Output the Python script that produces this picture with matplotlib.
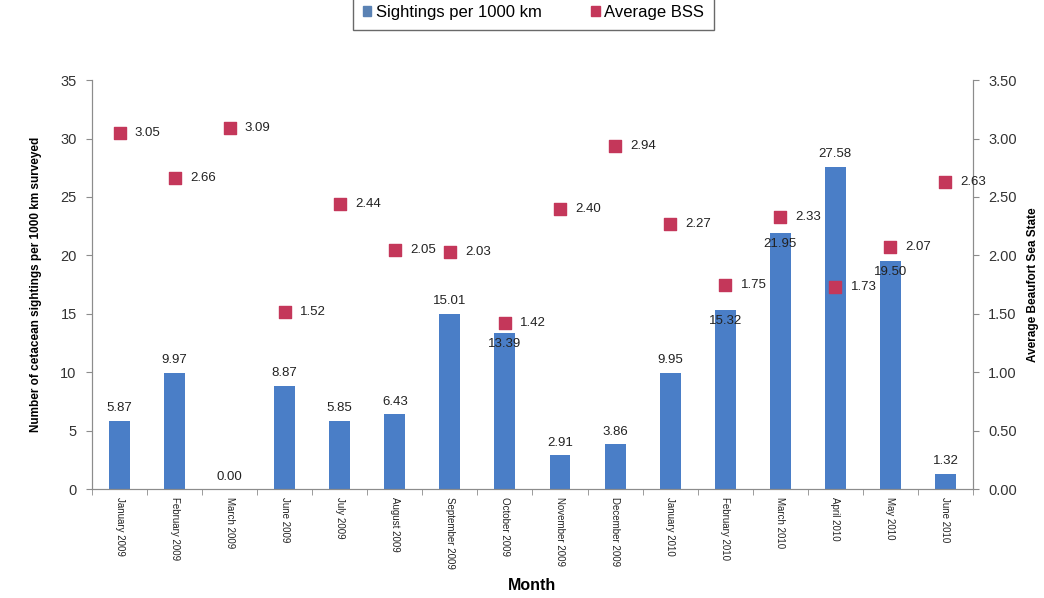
import numpy as np
from matplotlib import pyplot as plt
from matplotlib.patches import Patch

plt.rcParams['font.family'] = ['Liberation Sans', 'DejaVu Sans']

months = ['January 2009', 'February 2009', 'March 2009', 'June 2009', 'July 2009',
          'August 2009', 'September 2009', 'October 2009', 'November 2009',
          'December 2009', 'January 2010', 'February 2010', 'March 2010',
          'April 2010', 'May 2010', 'June 2010']
sightings = [5.87, 9.97, 0.00, 8.87, 5.85, 6.43, 15.01, 13.39, 2.91, 3.86,
             9.95, 15.32, 21.95, 27.58, 19.50, 1.32]
bss = [3.05, 2.66, 3.09, 1.52, 2.44, 2.05, 2.03, 1.42, 2.40, 2.94,
       2.27, 1.75, 2.33, 1.73, 2.07, 2.63]

bar_color = '#4A7EC7'
bss_color = '#C4375A'
axis_color = '#8C8C8C'

# bar labels that Excel pushed inside the bar top
inside = {'October 2009', 'February 2010', 'March 2010', 'May 2010'}

fig = plt.figure(figsize=(10.44, 5.98), dpi=100)
ax = fig.add_axes([0.0881, 0.182, 0.8439, 0.684])
ax2 = ax.twinx()

x = np.arange(len(months))
ax.bar(x, sightings, width=0.38, color=bar_color, zorder=2)
for xi, v, m in zip(x, sightings, months):
    off = -8 if m in inside else 9
    ax.annotate('%.2f' % v, (xi, v), xytext=(0, off), textcoords='offset points',
                ha='center', va='center', fontsize=9.5, color='#222222', zorder=3)

ax2.scatter(x, bss, marker='s', s=80, color=bss_color, zorder=4)
for xi, v in zip(x, bss):
    ax2.annotate('%.2f' % v, (xi, v), xytext=(11, 0), textcoords='offset points',
                 ha='left', va='center', fontsize=9.5, color='#222222')

ax.set_xlim(-0.5, len(months) - 0.5)
ax.set_ylim(0, 35)
ax2.set_ylim(0, 3.5)
ax.set_yticks(np.arange(0, 36, 5))
ax2.set_yticks(np.arange(0, 3.51, 0.5))
ax2.set_yticklabels(['%.2f' % t for t in np.arange(0, 3.51, 0.5)])

ax.set_xticks(x)
ax.set_xticklabels(months, rotation=270, fontsize=7, color='#222222')
ax.set_xticks(np.arange(-0.5, len(months), 1), minor=True)
ax.tick_params(axis='x', which='major', length=0, pad=6)
ax.tick_params(axis='x', which='minor', length=4, color=axis_color)
ax.tick_params(axis='y', labelsize=10.5, color=axis_color, labelcolor='#333333',
               length=4, pad=7)
ax2.tick_params(axis='y', labelsize=10.5, color=axis_color, labelcolor='#333333',
                length=4, pad=7)

for a in (ax, ax2):
    a.spines['top'].set_visible(False)
    for s in ('left', 'right', 'bottom'):
        a.spines[s].set_color(axis_color)

ax.set_ylabel('Number of cetacean sightings per 1000 km surveyed', fontsize=8.5,
              fontweight='bold', labelpad=13)
ax2.set_ylabel('Average Beaufort Sea State', fontsize=8.5, fontweight='bold',
               labelpad=7)
ax.set_xlabel('Month', fontsize=11.5, fontweight='bold', labelpad=6)

handles = [Patch(color='#5A82B4'), Patch(color=bss_color)]
leg = fig.legend(handles, ['Sightings per 1000 km', 'Average BSS'], loc='lower center',
                 bbox_to_anchor=(0.511, 1 - 30 / 598), ncol=2, fontsize=12,
                 frameon=True, fancybox=False, handlelength=0.5, handleheight=0.5,
                 handletextpad=0.25, columnspacing=3.0, borderpad=0.6,
                 borderaxespad=0)
leg.get_frame().set_edgecolor('#444444')
leg.get_frame().set_linewidth(1.0)

fig.savefig('out.png', dpi=100)
